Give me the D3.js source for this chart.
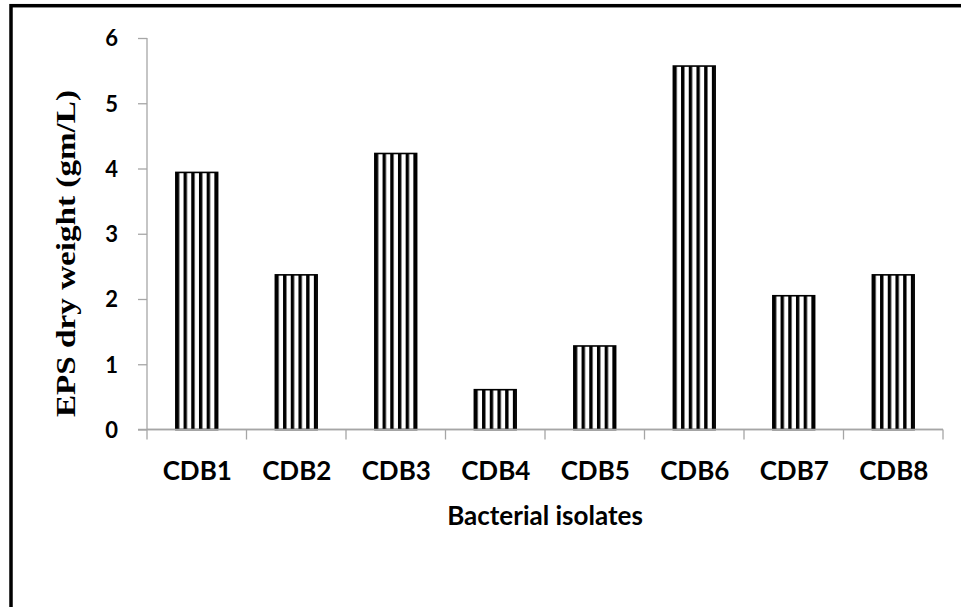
<!DOCTYPE html>
<html>
<head>
<meta charset="utf-8">
<script src="https://cdn.jsdelivr.net/npm/d3@7"></script>
<style>
  html, body { margin: 0; padding: 0; background: #fff; }
  svg { display: block; }
</style>
</head>
<body>
<svg id="chart" width="961" height="607"></svg>
<script>
const categories = ["CDB1", "CDB2", "CDB3", "CDB4", "CDB5", "CDB6", "CDB7", "CDB8"];
const epsValues = [3.94, 2.37, 4.23, 0.61, 1.28, 5.57, 2.05, 2.37];
const yTicks = [0, 1, 2, 3, 4, 5, 6];
const xTitle = "Bacterial isolates";
const yTitle = "EPS dry weight (gm/L)";

const svg = d3.select("#chart");
const W = 961, H = 607;
const plot = { left: 147, right: 943, top: 38, bottom: 429.5 };

svg.append("rect").attr("x", 0).attr("y", 0).attr("width", W).attr("height", H).attr("fill", "#fff");

// outer frame (top and left visible)
svg.append("rect")
  .attr("x", 11).attr("y", 5.7).attr("width", 1000).attr("height", 700)
  .attr("fill", "none").attr("stroke", "#000").attr("stroke-width", 3.5);

const x = d3.scaleBand().domain(categories).range([plot.left, plot.right]).paddingInner(0.58).paddingOuter(0.29);
const xCat = d3.scaleBand().domain(categories).range([plot.left, plot.right]);
const y = d3.scaleLinear().domain([0, 6]).range([plot.bottom, plot.top]);

const axisColor = "#a6a6a6";

// Y axis
const yAxis = svg.append("g").attr("transform", `translate(${plot.left},0)`)
  .call(d3.axisLeft(y).tickValues(yTicks).tickSize(9).tickPadding(20).tickFormat(d3.format("d")));
yAxis.select(".domain").attr("stroke", axisColor).attr("stroke-width", 1.3).attr("d", `M0,${plot.bottom}V${plot.top}`);
yAxis.selectAll(".tick line").attr("stroke", axisColor).attr("stroke-width", 1.3);
yAxis.selectAll(".tick text")
  .attr("fill", "#000").attr("font-family", "Lato, sans-serif").attr("font-weight", "bold")
  .attr("font-size", "22px").attr("dy", "0.36em");

// X axis
const xAxisG = svg.append("g").attr("transform", `translate(0,${plot.bottom})`);
xAxisG.append("line")
  .attr("x1", plot.left - 9).attr("x2", plot.right).attr("y1", 0).attr("y2", 0)
  .attr("stroke", axisColor).attr("stroke-width", 1.3);
const boundaries = categories.map(c => xCat(c)).concat([xCat(categories[categories.length - 1]) + xCat.bandwidth()]);
xAxisG.selectAll("line.ctick").data(boundaries).join("line")
  .attr("class", "ctick")
  .attr("x1", d => d).attr("x2", d => d).attr("y1", 0).attr("y2", 10)
  .attr("stroke", axisColor).attr("stroke-width", 1.3);
svg.selectAll("text.xlab").data(categories).join("text")
  .attr("class", "xlab")
  .attr("x", d => xCat(d) + xCat.bandwidth() / 2 + 0.5)
  .attr("y", 480)
  .attr("text-anchor", "middle")
  .attr("font-family", "Lato, sans-serif").attr("font-weight", "bold").attr("font-size", "26px")
  .attr("fill", "#000")
  .text(d => d);

// stripe patterns, one per bar aligned to its left edge
const defs = svg.append("defs");
const period = 7.7, blackW = 3.4;
const pats = defs.selectAll("pattern").data(categories).join("pattern")
  .attr("id", (d, i) => "stripe" + i)
  .attr("patternUnits", "userSpaceOnUse")
  .attr("x", d => x(d)).attr("y", 0)
  .attr("width", period).attr("height", 10);
pats.append("rect").attr("width", period).attr("height", 10).attr("fill", "#fff");
pats.append("rect").attr("width", blackW).attr("height", 10).attr("fill", "#000");

// bars
svg.selectAll("rect.bar").data(categories).join("rect")
  .attr("class", "bar")
  .attr("x", d => x(d))
  .attr("width", x.bandwidth())
  .attr("y", (d, i) => y(epsValues[i]))
  .attr("height", (d, i) => y(0) - y(epsValues[i]))
  .attr("fill", (d, i) => `url(#stripe${i})`)
  .attr("stroke", "#000").attr("stroke-width", 1.6);

// redraw x axis baseline over bars
svg.append("line")
  .attr("x1", plot.left).attr("x2", plot.right).attr("y1", plot.bottom).attr("y2", plot.bottom)
  .attr("stroke", axisColor).attr("stroke-width", 1.3);

// titles
svg.append("text")
  .attr("x", (plot.left + plot.right) / 2).attr("y", 525)
  .attr("text-anchor", "middle")
  .attr("font-family", "Lato, sans-serif").attr("font-weight", "bold").attr("font-size", "26px")
  .attr("fill", "#000")
  .text(xTitle);

svg.append("text")
  .attr("transform", "translate(75,253.5) rotate(-90)")
  .attr("text-anchor", "middle")
  .attr("font-family", "'Liberation Serif', 'Times New Roman', serif").attr("font-weight", "bold").attr("font-size", "28px")
  .attr("textLength", 327).attr("lengthAdjust", "spacingAndGlyphs")
  .attr("fill", "#000")
  .text(yTitle);
</script>
</body>
</html>
